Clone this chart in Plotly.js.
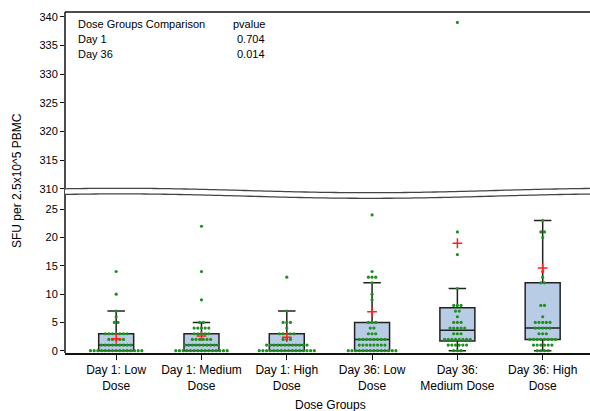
<!DOCTYPE html>
<html>
<head>
<meta charset="utf-8">
<script src="https://cdn.plot.ly/plotly-3.0.1.min.js"></script>
<style>
html,body{margin:0;padding:0;overflow:hidden;background:#fff;width:590px;height:411px;}
#chart{width:610px;height:411px;}
</style>
</head>
<body>
<div id="chart"></div>
<script>
// ---- data ----
const categories = ['Day 1: Low Dose','Day 1: Medium Dose','Day 1: High Dose','Day 36: Low Dose','Day 36: Medium Dose','Day 36: High Dose'];
const tickLabels = ['Day 1: Low<br>Dose','Day 1: Medium<br>Dose','Day 1: High<br>Dose','Day 36: Low<br>Dose','Day 36:<br>Medium Dose','Day 36: High<br>Dose'];

const q1         = [0, 0, 0, 0, 1.7, 2];
const median     = [1, 1, 1, 2, 3.6, 4];
const q3         = [3, 3, 3, 5, 7.6, 12];
const lowerFence = [0, 0, 0, 0, 0, 0];
const upperFence = [7, 5, 7, 12, 11, 23];
const means      = [2.1, 2.6, 2.4, 6.9, 19.0, 14.6];

const day1Low  = [0,0,0,0,0,0,0,0,0,0,0,0,0,0,0, 1,1,1,1,1,1,1,1,1, 2,2,2,2,2, 3,3,3,3,3,3,3, 5,5, 6, 7, 10, 14];
const day1Med  = [0,0,0,0,0,0,0,0,0,0,0,0,0,0,0, 1,1,1,1,1,1,1,1,1,1, 2,2,2,2,2,2, 3,3,3,3,3, 4,4,4,4,4, 5,5, 9, 14, 22];
const day1High = [0,0,0,0,0,0,0,0,0,0,0,0,0,0,0,0, 1,1,1,1,1,1,1,1,1,1,1,1, 2,2,2, 3,3,3,3,3, 4, 5,5,5, 7, 13];
const day36Low = [0,0,0,0,0,0,0,0,0,0,0,0,0,0, 1,1,1,1,1,1,1,1, 2,2,2,2,2,2,2,2, 3,3,3, 4,4, 5,5,5, 9, 10, 12, 13,13,13, 14, 24];
const day36Med = [0,0,0, 1,1,1,1,1,1, 2,2,2,2,2,2,2,2, 3,3,3, 4,4,4,4,4, 5,5,5, 6, 7,7, 8,8,8, 11, 17, 21, 339];
const day36High= [0,0,0,0, 1,1,1,1,1,1, 2,2,2,2,2,2,2,2, 3,3,3, 4,4,4,4,4, 5,5,5,5,5, 6, 8,8, 12,12, 13, 14, 20, 21,21, 23];
const groupValues = [day1Low, day1Med, day1High, day36Low, day36Med, day36High];

const comparisons = ['Day 1', 'Day 36'];
const pvalues     = ['0.704', '0.014'];

// ---- geometry helpers (pixel layout) ----
const W = 610, H = 411, ML = 65, MR = 10, MT = 12, MB = 58;
const PW = W - ML - MR, PH = H - MT - MB;
const px2x = p => (p - ML) / PW;
const py2y = p => (H - MB - p) / PH;

const lowTopPx = 194, upBotPx = 191;
const lowDomain = [0, py2y(lowTopPx)];
const upDomain = [py2y(upBotPx), 1];
const lowRange = [(350.7 - (H - MB)) / 5.656, (350.7 - lowTopPx) / 5.656];
const upRange = [340 - (upBotPx - 16.7) / 5.737, 340 + (16.7 - MT) / 5.737];

// ---- swarm positions for dots ----
const spacing = 0.043;
const dotLowX = [], dotLowY = [], dotUpX = [], dotUpY = [];
groupValues.forEach((vals, g) => {
  const counts = {};
  vals.forEach(v => counts[v] = (counts[v] || 0) + 1);
  Object.keys(counts).forEach(k => {
    const v = Number(k), c = counts[k];
    for (let i = 0; i < c; i++) {
      const xo = g + (i - (c - 1) / 2) * spacing;
      if (v > 300) { dotUpX.push(xo); dotUpY.push(v); }
      else { dotLowX.push(xo); dotLowY.push(v); }
    }
  });
});

const xs = categories.map((c, i) => i);

const dotMarker = {color: '#1f8f1f', size: 3.2, symbol: 'circle'};
const traces = [
  {
    type: 'box', x: xs, q1: q1, median: median, q3: q3,
    lowerfence: lowerFence, upperfence: upperFence,
    width: 0.41, whiskerwidth: 0.5,
    fillcolor: '#b8cde5', line: {color: '#222222', width: 1.5},
    boxpoints: false, xaxis: 'x', yaxis: 'y', hoverinfo: 'skip', showlegend: false
  },
  {
    type: 'scatter', mode: 'markers', x: dotLowX, y: dotLowY, xaxis: 'x', yaxis: 'y',
    marker: dotMarker, hoverinfo: 'skip', showlegend: false, cliponaxis: false
  },
  {
    type: 'scatter', mode: 'markers', x: dotUpX, y: dotUpY, xaxis: 'x', yaxis: 'y2',
    marker: dotMarker, hoverinfo: 'skip', showlegend: false
  },
  {
    type: 'scatter', mode: 'markers', x: xs, y: means, xaxis: 'x', yaxis: 'y',
    marker: {symbol: 'cross-thin', size: 7, line: {color: '#ff2020', width: 1.5}, color: '#ff2020'},
    hoverinfo: 'skip', showlegend: false
  }
];

// wavy break lines (decoration)
function wave(offsetPx, x0, x1) {
  const pts = [];
  for (let p = x0; p <= x1; p += 5) {
    const yPx = 190.5 + offsetPx - 2.2 * Math.cos(2 * Math.PI * (p - 120) / 500);
    pts.push([px2x(p), py2y(yPx)]);
  }
  return pts;
}
const upWave = wave(0, ML, W - MR);
const lowWave = wave(5.6, ML, W - MR);
const toPath = pts => pts.map((q, i) => (i ? 'L' : 'M') + q[0].toFixed(5) + ',' + q[1].toFixed(5)).join(' ');
const fillPath = toPath(upWave) + ' ' + lowWave.slice().reverse().map(q => 'L' + q[0].toFixed(5) + ',' + q[1].toFixed(5)).join(' ') + ' Z';

const shapes = [
  {type: 'path', xref: 'paper', yref: 'paper', path: fillPath, fillcolor: '#ffffff', line: {width: 0}, layer: 'above'},
  {type: 'path', xref: 'paper', yref: 'paper', path: toPath(upWave), line: {color: '#444444', width: 1.3}, layer: 'above'},
  {type: 'path', xref: 'paper', yref: 'paper', path: toPath(lowWave), line: {color: '#444444', width: 1.3}, layer: 'above'},
  {type: 'line', xref: 'paper', yref: 'paper', x0: 0, x1: 1, y0: 1, y1: 1, line: {color: '#111', width: 1.5}},
  {type: 'line', xref: 'paper', yref: 'paper', x0: 0, x1: 0, y0: 0, y1: 1, line: {color: '#111', width: 1.5}, layer: 'below'}
];

const font = {family: 'Liberation Sans, Arial, sans-serif', size: 11, color: '#000'};
const annotations = [
  {xref: 'paper', yref: 'paper', x: px2x(76), y: py2y(24), xanchor: 'left', yanchor: 'middle', text: 'Dose Groups Comparison', showarrow: false, font: font},
  {xref: 'paper', yref: 'paper', x: px2x(267), y: py2y(24), xanchor: 'right', yanchor: 'middle', text: 'pvalue', showarrow: false, font: font},
  {xref: 'paper', yref: 'paper', x: px2x(17), y: py2y(181), xanchor: 'center', yanchor: 'middle', textangle: -90, text: 'SFU per 2.5x10^5 PBMC', showarrow: false, font: {family: font.family, size: 12, color: '#000'}},
  {xref: 'paper', yref: 'paper', x: px2x(330), y: py2y(405), xanchor: 'center', yanchor: 'middle', text: 'Dose Groups', showarrow: false, font: {family: font.family, size: 12, color: '#000'}}
];
comparisons.forEach((c, i) => {
  const yPx = 39.3 + i * 14.3;
  annotations.push({xref: 'paper', yref: 'paper', x: px2x(76), y: py2y(yPx), xanchor: 'left', yanchor: 'middle', text: c, showarrow: false, font: font});
  annotations.push({xref: 'paper', yref: 'paper', x: px2x(267), y: py2y(yPx), xanchor: 'right', yanchor: 'middle', text: pvalues[i], showarrow: false, font: font});
});

const layout = {
  width: W, height: H,
  margin: {l: ML, r: MR, t: MT, b: MB, pad: 0},
  paper_bgcolor: '#fff', plot_bgcolor: '#fff',
  showlegend: false, hovermode: false,
  font: font,
  xaxis: {
    range: [-0.6, 5.672], tickmode: 'array', tickvals: xs, ticktext: tickLabels,
    ticks: 'outside', ticklen: 5, tickwidth: 1, tickcolor: '#111',
    showline: true, linecolor: '#111', linewidth: 2, showgrid: false, zeroline: false,
    tickfont: {family: font.family, size: 12, color: '#000'}, anchor: 'y'
  },
  yaxis: {
    domain: lowDomain, range: lowRange, tickvals: [0,5,10,15,20,25],
    ticks: 'outside', ticklen: 4, tickcolor: '#111', showline: false,
    showgrid: false, zeroline: false, tickfont: {family: font.family, size: 11, color: '#000'}
  },
  yaxis2: {
    domain: upDomain, range: upRange, tickvals: [310,315,320,325,330,335,340],
    ticks: 'outside', ticklen: 4, tickcolor: '#111', showline: false,
    showgrid: false, zeroline: false, tickfont: {family: font.family, size: 11, color: '#000'}, anchor: 'x'
  },
  shapes: shapes,
  annotations: annotations
};

Plotly.newPlot('chart', traces, layout, {staticPlot: true, displayModeBar: false});
</script>
</body>
</html>
